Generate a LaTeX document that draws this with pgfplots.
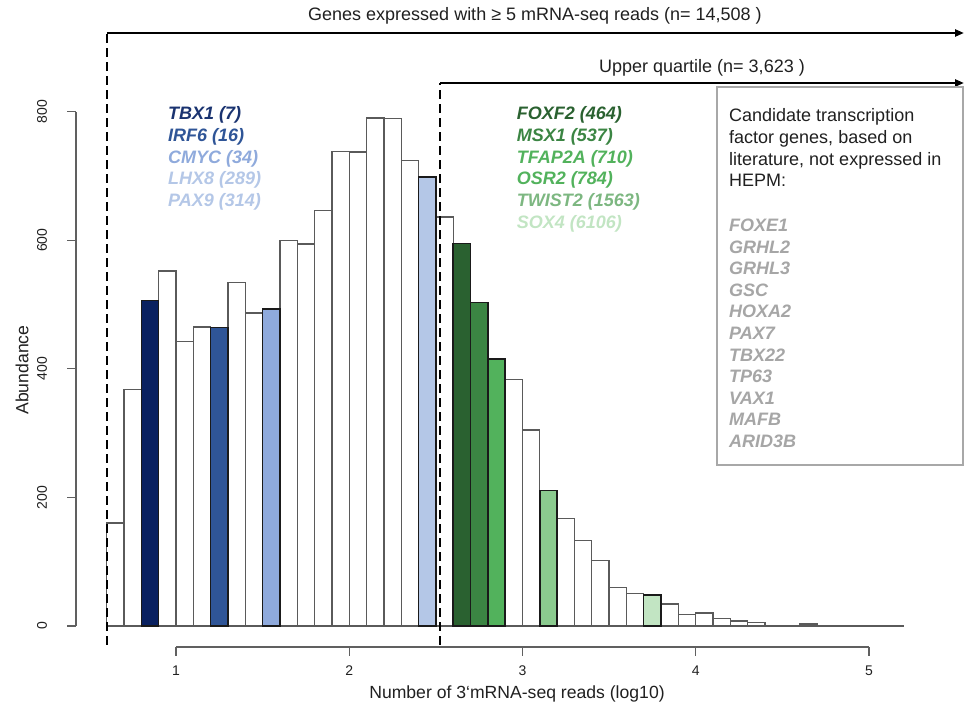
\documentclass[border=0pt]{standalone}
\usepackage{pgfplots}
\pgfplotsset{compat=1.18}
\usepackage{fontspec}
\setmainfont{Liberation Sans}
\usetikzlibrary{arrows.meta}
\definecolor{whiteedge}{HTML}{5A5A5A}
\definecolor{edge}{HTML}{1A1A1A}
\definecolor{axisc}{HTML}{606060}
\definecolor{tickc}{HTML}{202020}
\definecolor{boxc}{HTML}{A8A8A8}
\definecolor{greyg}{HTML}{A6A6A6}
\definecolor{cTBX}{HTML}{0A2160}
\definecolor{tTBX}{HTML}{1A3370}
\definecolor{cIRF}{HTML}{2F5597}
\definecolor{cCMYC}{HTML}{8FAADC}
\definecolor{cLHX}{HTML}{B4C7E7}
\definecolor{cFOX}{HTML}{2A6130}
\definecolor{cMSX}{HTML}{3B8543}
\definecolor{cTFA}{HTML}{52B25C}
\definecolor{cTWI}{HTML}{8BCB8F}
\definecolor{cSOX}{HTML}{C2E5C3}
\begin{document}
\begin{tikzpicture}
\begin{axis}[
  scale only axis, width=796.9pt, height=514.4pt,
  xmin=0.6, xmax=5.2, ymin=0, ymax=800,
  hide axis, clip=false,
]
\addplot[ybar interval, fill=white, draw=whiteedge, line width=1.3pt] table {
x y
0.6 160
0.7 368
0.8 506
0.9 552
1.0 443
1.1 465
1.2 464
1.3 534
1.4 487
1.5 493
1.6 600
1.7 594
1.8 646
1.9 738
2.0 737
2.1 790
2.2 789
2.3 724
2.4 698
2.5 636
2.6 595
2.7 503
2.8 415
2.9 383
3.0 305
3.1 211
3.2 167
3.3 133
3.4 102
3.5 60
3.6 51
3.7 48
3.8 34
3.9 18
4.0 20
4.1 12
4.2 8
4.3 5
4.4 0
4.5 1
4.6 3
4.7 1
4.8 0
4.9 0
5.0 1
5.1 1
5.2 1
};
\addplot[ybar interval, fill=cTBX, draw=edge, line width=1.5pt] coordinates {(0.8,506) (0.9,506)};
\addplot[ybar interval, fill=cIRF, draw=edge, line width=1.5pt] coordinates {(1.2,464) (1.3,464)};
\addplot[ybar interval, fill=cCMYC, draw=edge, line width=1.5pt] coordinates {(1.5,493) (1.6,493)};
\addplot[ybar interval, fill=cLHX, draw=edge, line width=1.5pt] coordinates {(2.4,698) (2.5,698)};
\addplot[ybar interval, fill=cFOX, draw=edge, line width=1.5pt] coordinates {(2.6,595) (2.7,595)};
\addplot[ybar interval, fill=cMSX, draw=edge, line width=1.5pt] coordinates {(2.7,503) (2.8,503)};
\addplot[ybar interval, fill=cTFA, draw=edge, line width=1.5pt] coordinates {(2.8,415) (2.9,415)};
\addplot[ybar interval, fill=cTWI, draw=edge, line width=1.5pt] coordinates {(3.1,211) (3.2,211)};
\addplot[ybar interval, fill=cSOX, draw=edge, line width=1.5pt] coordinates {(3.7,48) (3.8,48)};
% threshold lines
\draw[black, line width=2pt, dash pattern=on 9pt off 5pt] (axis cs:0.6,-29.5) -- (axis cs:0.6,922.2);
\draw[black, line width=2pt, dash pattern=on 9pt off 5pt] (axis cs:2.524,-29.5) -- (axis cs:2.524,844.5);
\coordinate (O) at (axis cs:0.6,0);
\end{axis}
\begin{scope}[shift={(O)}, xshift=-106.7pt, yshift=626pt, x=1pt, y=-1pt]
  \path (0,0) rectangle (966,707);
  % y axis
  \draw[axisc, line width=1.3pt] (76,626) -- (76,111.6);
  \foreach \yy/\l in {626/0, 497.4/200, 368.8/400, 240.2/600, 111.6/800} {
    \draw[axisc, line width=1.3pt] (76,\yy) -- (67,\yy);
    \node[rotate=90, font=\fontsize{14}{16}\selectfont, text=tickc] at (42,\yy) {\l};
  }
  % x axis
  \draw[axisc, line width=1.3pt] (176,647) -- (869,647);
  \foreach \xx/\l in {176/1, 349.25/2, 522.5/3, 695.75/4, 869/5} {
    \draw[axisc, line width=1.3pt] (\xx,647) -- (\xx,656);
    \node[font=\fontsize{14}{16}\selectfont, text=tickc, anchor=base] at (\xx,675) {\l};
  }
  \node[font=\fontsize{17.6}{20}\selectfont, text=tickc, anchor=base] at (517,698) {Number of 3‘mRNA-seq reads (log10)};
  \node[rotate=90, font=\fontsize{17.6}{20}\selectfont, text=tickc] at (22,370) {Abundance};
  % arrows
  \draw[black, line width=2.5pt, -{Triangle[length=9pt,width=7pt]}] (107,33) -- (964,33);
  \draw[black, line width=2.5pt, -{Triangle[length=9pt,width=7pt]}] (440,83) -- (964,83);
  \node[font=\fontsize{18}{21}\selectfont, text=tickc, anchor=base] at (535,20.5) {Genes expressed with ≥ 5 mRNA-seq reads (n= 14,508 )};
  \node[font=\fontsize{18}{21}\selectfont, text=tickc, anchor=base] at (702,72.5) {Upper quartile (n= 3,623 )};
  % left gene labels
  \begin{scope}[every node/.style={anchor=base west, inner sep=0pt, font=\fontsize{18}{21}\selectfont\bfseries\itshape}]
    \node[text=tTBX] at (168,119.8) {TBX1 (7)};
    \node[text=cIRF] at (168,141.5) {IRF6 (16)};
    \node[text=cCMYC] at (168,163.2) {CMYC (34)};
    \node[text=cLHX] at (168,184.9) {LHX8 (289)};
    \node[text=cLHX] at (168,206.6) {PAX9 (314)};
    \node[text=cFOX] at (516.7,119.8) {FOXF2 (464)};
    \node[text=cMSX] at (516.7,141.5) {MSX1 (537)};
    \node[text=cTFA] at (516.7,163.2) {TFAP2A (710)};
    \node[text=cTFA] at (516.7,184.9) {OSR2 (784)};
    \node[text=cTWI!90!black] at (516.7,206.6) {TWIST2 (1563)};
    \node[text=cSOX] at (516.7,228.3) {SOX4 (6106)};
  \end{scope}
  % box
  \draw[boxc, line width=1.2pt, fill=white] (717,87) rectangle (963,465);
  \begin{scope}[every node/.style={anchor=base west, inner sep=0pt, font=\fontsize{18}{21}\selectfont, text=tickc}]
    \node at (729,121.5) {Candidate transcription};
    \node at (729,143.3) {factor genes, based on};
    \node at (729,165.1) {literature, not expressed in};
    \node at (729,186.9) {HEPM:};
  \end{scope}
  \begin{scope}[every node/.style={anchor=base west, inner sep=0pt, font=\fontsize{18}{21}\selectfont\bfseries\itshape, text=greyg}]
    \node at (729,231.5) {FOXE1};
    \node at (729,253.1) {GRHL2};
    \node at (729,274.7) {GRHL3};
    \node at (729,296.3) {GSC};
    \node at (729,317.9) {HOXA2};
    \node at (729,339.5) {PAX7};
    \node at (729,361.1) {TBX22};
    \node at (729,382.7) {TP63};
    \node at (729,404.3) {VAX1};
    \node at (729,425.9) {MAFB};
    \node at (729,447.5) {ARID3B};
  \end{scope}
\end{scope}
\end{tikzpicture}
\end{document}
